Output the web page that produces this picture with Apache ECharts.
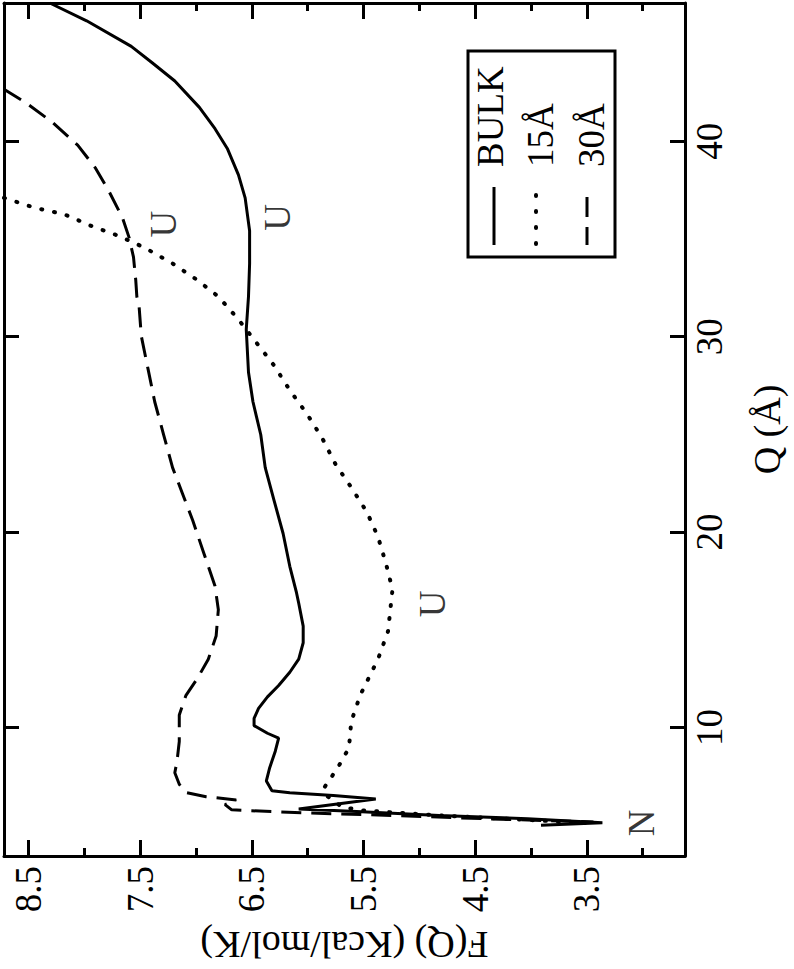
<!DOCTYPE html>
<html><head><meta charset="utf-8">
<script src="https://cdn.jsdelivr.net/npm/echarts@6/dist/echarts.min.js"></script>
<style>html,body{margin:0;padding:0;background:#fff}#c{width:794px;height:969px}</style>
</head><body><div id="c"></div>
<script>
// ---- data (Q in Å, F(Q) in Kcal/mol/K) ----
const bulkQ = [47.07,46.16,44.85,44.0,43.08,41.73,40.64,39.63,38.28,37.1,35.42,33.74,32.05,30.37,28.18,26.67,24.98,23.3,21.6,19.93,18.25,16.9,16.36,15.19,14.34,13.5,12.83,12.15,11.57,10.98,10.47,10.1,9.71,9.46,8.79,7.95,7.27,6.77,6.67,6.52,6.35,5.84,5.72,5.5,5.34,5.13,5.0];
const bulkF = [8.31,7.98,7.58,7.39,7.19,6.97,6.83,6.72,6.62,6.56,6.52,6.52,6.53,6.55,6.53,6.49,6.42,6.38,6.30,6.22,6.16,6.10,6.08,6.04,6.04,6.08,6.16,6.26,6.36,6.44,6.48,6.48,6.36,6.26,6.29,6.34,6.37,6.32,6.16,5.77,5.39,6.08,5.61,4.82,4.03,3.36,3.91];
const a15Q = [37.1,36.6,36.26,35.67,35.17,34.58,33.74,32.9,32.05,30.88,29.7,28.52,27.26,26.08,24.81,23.47,22.29,21.03,19.76,18.42,17.07,14.93,13.5,11.65,10.3,8.96,7.95,6.94,6.6,5.93,5.76,5.5,5.3,5.1];
const a15F = [8.72,8.45,8.18,7.94,7.70,7.47,7.21,6.99,6.80,6.62,6.46,6.30,6.16,6.01,5.87,5.75,5.61,5.47,5.37,5.30,5.24,5.28,5.37,5.53,5.61,5.63,5.73,5.85,5.85,5.69,5.5,4.8,4.1,3.45];
const a30Q = [42.66,41.99,40.98,39.8,38.62,37.44,36.1,35.08,34.07,32.9,32.05,31.55,30.03,28.35,26.67,24.98,23.3,21.95,20.61,18.92,17.24,16.03,14.68,13.5,12.49,11.65,10.64,9.29,8.28,7.69,7.1,6.68,6.46,6.30,6.06,5.79,5.64,5.5,5.34,5.17];
const a30F = [8.72,8.53,8.29,8.06,7.90,7.78,7.66,7.60,7.56,7.54,7.53,7.51,7.49,7.43,7.37,7.29,7.21,7.12,7.03,6.93,6.83,6.80,6.82,6.89,6.99,7.09,7.15,7.15,7.17,7.19,7.15,7.09,6.91,6.64,6.74,6.68,6.05,5.22,4.43,3.44];
const annText = ['N','U','U','U'];
const annF = [3.01,4.88,7.29,6.27];
const annQ = [5.12,16.33,35.76,36.1];
const fMajorTicks = [3.5,4.5,5.5,6.5,7.5,8.5];
const fMinorTicks = [3.0,4.0,5.0,6.0,7.0,8.0];
const qTicks = [10,20,30,40];
const seriesNames = ['BULK','15Å','30Å'];

const FONT = 'Liberation Serif';
const FS = 37;
const F_MIN = 2.62, F_MAX = 8.72, Q_MIN = 3.43, Q_MAX = 47.07;
const pairs = (f, q) => f.map((v, i) => [v, q[i]]);
const black = '#000';

function xAx(pos, ticks, len, withLine, withLabel) {
  const o = {
    type: 'value', position: pos, inverse: true, min: F_MIN, max: F_MAX,
    axisLine: {show: withLine, onZero: false, lineStyle: {color: black, width: 3}},
    axisTick: {show: true, inside: true, length: len, customValues: ticks, lineStyle: {color: black, width: 3}},
    axisLabel: {show: false}, splitLine: {show: false}
  };
  if (withLabel) {
    o.axisLabel = {show: true, customValues: ticks, rotate: 90, margin: 10, fontSize: FS, fontFamily: FONT, color: black,
      formatter: v => v.toFixed(1)};
    o.name = 'F(Q) (Kcal/mol/K)'; o.nameLocation = 'middle'; o.nameRotate = 180; o.nameGap = 70;
    o.nameTextStyle = {fontSize: FS + 1, fontFamily: FONT, color: black};
  }
  return o;
}
function yAx(pos, withLabel) {
  const o = {
    type: 'value', position: pos, min: Q_MIN, max: Q_MAX,
    axisLine: {show: true, onZero: false, lineStyle: {color: black, width: 3}},
    axisTick: {show: true, inside: true, length: 15, customValues: qTicks, lineStyle: {color: black, width: 3}},
    axisLabel: {show: false}, splitLine: {show: false}
  };
  if (withLabel) {
    o.axisLabel = {show: true, customValues: qTicks, rotate: 90, margin: 6, fontSize: FS, fontFamily: FONT, color: black};
    o.name = 'Q (Å)'; o.nameLocation = 'middle'; o.nameRotate = 90; o.nameGap = 63;
    o.nameTextStyle = {fontSize: FS + 1, fontFamily: FONT, color: black};
  }
  return o;
}

const chart = echarts.init(document.getElementById('c'), null, {renderer: 'svg'});
const legTxt = (t, x) => ({type: 'text', x: x, y: 167, rotation: Math.PI / 2, z: 102,
  style: {text: t, fontSize: FS, fontFamily: FONT, fill: black, align: 'left', verticalAlign: 'middle', textAlign: 'left', textVerticalAlign: 'middle'}});
chart.setOption({
  animation: false,
  backgroundColor: '#fff',
  textStyle: {fontFamily: FONT, color: black},
  grid: {left: 4, right: 95, top: 3, bottom: 102, containLabel: false},
  xAxis: [xAx('bottom', fMajorTicks, 16, true, true), xAx('bottom', fMinorTicks, 8, false, false),
          xAx('top', fMajorTicks, 16, true, false), xAx('top', fMinorTicks, 8, false, false)],
  yAxis: [yAx('right', true), yAx('left', false)],
  series: [
    {name: seriesNames[0], type: 'line', data: pairs(bulkF, bulkQ), symbol: 'none', lineStyle: {color: black, width: 3}},
    {name: seriesNames[1], type: 'line', data: pairs(a15F, a15Q), symbol: 'none', lineStyle: {color: black, width: 4, type: [1, 12], cap: 'round'}},
    {name: seriesNames[2], type: 'line', data: pairs(a30F, a30Q), symbol: 'none', lineStyle: {color: black, width: 3, type: [20, 10]}},
    {type: 'scatter', data: pairs(annF, annQ), symbolSize: 1, itemStyle: {color: 'rgba(0,0,0,0)'},
     label: {show: true, position: 'inside', rotate: 90, fontSize: FS, fontFamily: FONT, color: black, textBorderWidth: 0,
       formatter: p => annText[p.dataIndex]}}
  ],
  graphic: [
    {type: 'rect', shape: {x: 468, y: 51, width: 147, height: 206}, style: {fill: '#fff', stroke: black, lineWidth: 3}, z: 100},
    {type: 'line', shape: {x1: 494, y1: 187, x2: 494, y2: 245}, style: {stroke: black, lineWidth: 3}, z: 101},
    {type: 'line', shape: {x1: 536, y1: 195, x2: 536, y2: 245}, style: {stroke: black, lineWidth: 4, lineDash: [1, 15], lineCap: 'round'}, z: 101},
    {type: 'line', shape: {x1: 587, y1: 197, x2: 587, y2: 245}, style: {stroke: black, lineWidth: 3, lineDash: [20, 10]}, z: 101},
    legTxt(seriesNames[0], 490), legTxt(seriesNames[1], 540), legTxt(seriesNames[2], 591)
  ]
});
</script></body></html>
